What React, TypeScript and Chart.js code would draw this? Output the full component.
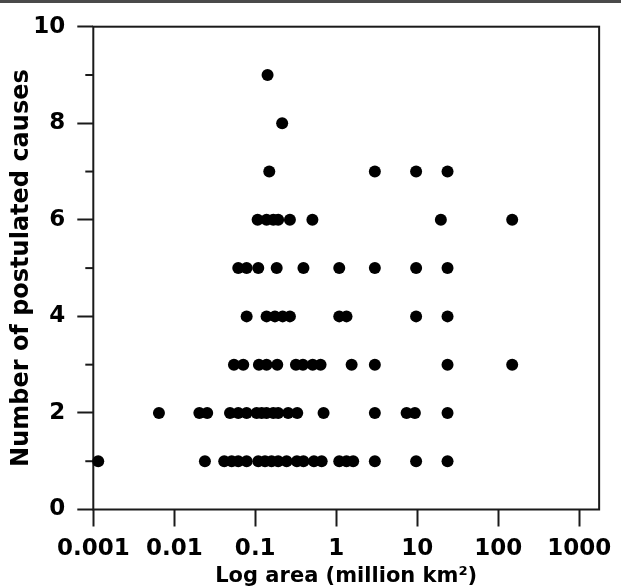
import React, { useEffect, useRef } from 'react';
import { Chart, registerables } from 'chart.js';

Chart.register(...registerables);

// Areas (million km²) grouped by number of postulated causes
const causes1 = [0.00115, 0.0239, 0.0414, 0.0512, 0.0617, 0.0783, 0.109, 0.132, 0.159, 0.192, 0.244, 0.327, 0.394, 0.531, 0.661, 1.09, 1.34, 1.62, 3.0, 9.7, 23.7];
const causes2 = [0.00647, 0.0204, 0.0255, 0.0488, 0.0617, 0.0783, 0.104, 0.12, 0.138, 0.167, 0.192, 0.255, 0.33, 0.698, 3.0, 7.4, 9.37, 23.7];
const causes3 = [0.0546, 0.0711, 0.111, 0.138, 0.187, 0.318, 0.388, 0.512, 0.641, 1.55, 3.0, 23.7, 149];
const causes4 = [0.0783, 0.138, 0.175, 0.218, 0.268, 1.09, 1.34, 9.7, 23.7];
const causes5 = [0.0617, 0.0783, 0.109, 0.184, 0.394, 1.09, 3.0, 9.7, 23.7];
const causes6 = [0.107, 0.138, 0.167, 0.192, 0.268, 0.508, 19.6, 149];
const causes7 = [0.149, 3.0, 9.7, 23.7];
const causes8 = [0.215];
const causes9 = [0.142];

const causeRows = [causes1, causes2, causes3, causes4, causes5, causes6, causes7, causes8, causes9];

const xTickValues = [0.001, 0.01, 0.1, 1, 10, 100, 1000];
const xTickLabels = ['0.001', '0.01', '0.1', '1', '10', '100', '1000'];
const yTickLabels = ['0', '', '2', '', '4', '', '6', '', '8', '', '10'];
const xMin = 0.001;
const xMax = 1766;
const yMin = 0;
const yMax = 10;

const xTitle = 'Log area (million km²)';
const yTitle = 'Number of postulated causes';

const INK = '#1a1a1a';
const FONT = '"DejaVu Sans", sans-serif';

const framePlugin = {
  id: 'frameAndMinor',
  beforeDatasetsDraw(chart: any) {
    const { ctx, chartArea } = chart;
    const { left, top, right, bottom } = chartArea;
    ctx.save();
    ctx.strokeStyle = INK;
    ctx.lineWidth = 2;
    ctx.strokeRect(left, top, right - left, bottom - top);
    // minor ticks on y axis (odd values)
    const ys = chart.scales.y;
    for (let v = yMin + 1; v < yMax; v += 2) {
      const py = ys.getPixelForValue(v);
      ctx.beginPath();
      ctx.moveTo(left - 8, py);
      ctx.lineTo(left, py);
      ctx.stroke();
    }
    ctx.restore();
  },
};

export default function App() {
  const ref = useRef<HTMLCanvasElement | null>(null);

  useEffect(() => {
    if (!ref.current) return;
    const points: { x: number; y: number }[] = [];
    causeRows.forEach((row, i) => {
      row.forEach((a) => points.push({ x: a, y: i + 1 }));
    });

    const chart = new Chart(ref.current, {
      type: 'scatter',
      data: {
        datasets: [
          {
            data: points,
            backgroundColor: '#000',
            borderWidth: 0,
            pointRadius: 6,
            pointHoverRadius: 6,
            clip: false as any,
          },
        ],
      },
      options: {
        animation: false,
        responsive: false,
        devicePixelRatio: 1,
        layout: { padding: { top: 26.7, right: 21.7, left: 0, bottom: 0 } },
        plugins: { legend: { display: false }, tooltip: { enabled: false } },
        scales: {
          x: {
            type: 'logarithmic',
            min: xMin,
            max: xMax,
            bounds: 'data',
            afterBuildTicks: (scale: any) => {
              scale.ticks = xTickValues.map((v) => ({ value: v }));
            },
            afterFit: (scale: any) => {
              scale.height = 78.5;
            },
            ticks: {
              autoSkip: false,
              maxRotation: 0,
              minRotation: 0,
              padding: 9,
              color: '#000',
              font: { family: FONT, size: 23, weight: 'bold' },
              callback: (value: any) => {
                const i = xTickValues.findIndex((t) => Math.abs(Math.log10(t) - Math.log10(Number(value))) < 1e-6);
                return i >= 0 ? xTickLabels[i] : '';
              },
            },
            grid: {
              drawOnChartArea: false,
              drawTicks: true,
              tickLength: 17,
              tickColor: INK,
              tickWidth: 2,
            },
            border: { display: false },
            title: {
              display: true,
              text: xTitle,
              color: '#000',
              font: { family: FONT, size: 21, weight: 'bold', lineHeight: 1 },
              padding: { top: 0, bottom: 1 },
            },
          },
          y: {
            type: 'linear',
            min: yMin,
            max: yMax,
            afterFit: (scale: any) => {
              scale.width = 93.3;
            },
            ticks: {
              stepSize: 1,
              autoSkip: false,
              padding: 12,
              color: '#000',
              font: { family: FONT, size: 23, weight: 'bold' },
              callback: (value: any) => yTickLabels[Math.round(Number(value))] ?? '',
            },
            grid: {
              drawOnChartArea: false,
              drawTicks: true,
              tickLength: 16,
              tickWidth: 2,
              tickColor: (ctx: any) => (ctx.tick && Math.round(ctx.tick.value) % 2 === 1 ? 'rgba(0,0,0,0)' : INK),
            },
            border: { display: false },
            title: {
              display: true,
              text: yTitle,
              color: '#000',
              font: { family: FONT, size: 24, weight: 'bold', lineHeight: 1 },
              padding: { top: 10, bottom: 0 },
            },
          },
        },
      },
      plugins: [framePlugin],
    } as any);

    return () => chart.destroy();
  }, []);

  return (
    <div style={{ position: 'fixed', left: 0, top: 0, width: 621, height: 588, background: '#fff' }}>
      <canvas ref={ref} width={621} height={588} style={{ position: 'absolute', left: 0, top: 0, width: 621, height: 588 }} />
      <div style={{ position: 'absolute', left: 0, top: 0, width: 621, height: 3, background: '#4a4a4a' }} />
    </div>
  );
}
